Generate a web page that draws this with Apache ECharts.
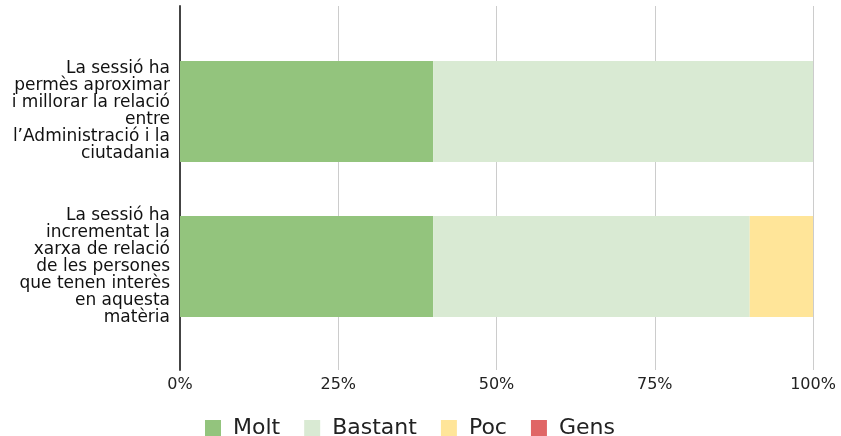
<!DOCTYPE html>
<html>
<head>
<meta charset="utf-8">
<script src="https://cdn.jsdelivr.net/npm/echarts@6/dist/echarts.min.js"></script>
<style>
html,body{margin:0;padding:0;background:#fff;}
#chart{width:841px;height:436px;}
</style>
</head>
<body>
<div id="chart"></div>
<script>
const categories = [
  "La sessió ha\npermès aproximar\ni millorar la relació\nentre\nl’Administració i la\nciutadania",
  "La sessió ha\nincrementat la\nxarxa de relació\nde les persones\nque tenen interès\nen aquesta\nmatèria"
];
const seriesNames = ["Molt", "Bastant", "Poc", "Gens"];
const molt = [40, 40];
const bastant = [60, 50];
const poc = [0, 10];
const gens = [0, 0];
const colors = ["#93c47d", "#d9ead3", "#ffe599", "#e06666"];
const xTicks = [0, 25, 50, 75, 100];

const font = "DejaVu Sans";
const values = [molt, bastant, poc, gens];

const chart = echarts.init(document.getElementById('chart'));
chart.setOption({
  animation: false,
  backgroundColor: '#fff',
  grid: [
    {left: 180, right: 28, top: 6, bottom: 66},
    {left: 180, right: 28, top: 34, bottom: 92}
  ],
  xAxis: [
    {
      gridIndex: 0, type: 'value', min: xTicks[0], max: xTicks[xTicks.length-1],
      interval: xTicks[1] - xTicks[0],
      axisLine: {show: false}, axisTick: {show: false},
      splitLine: {show: true, lineStyle: {color: '#cccccc', width: 1}},
      axisLabel: {formatter: '{value}%', fontFamily: font, fontSize: 16, color: '#222', margin: 7}
    },
    {
      gridIndex: 1, type: 'value', min: xTicks[0], max: xTicks[xTicks.length-1],
      show: false
    }
  ],
  yAxis: [
    {
      gridIndex: 0, type: 'value', min: 0, max: 1,
      axisLine: {show: true, lineStyle: {color: '#444', width: 2}},
      axisTick: {show: false}, axisLabel: {show: false}, splitLine: {show: false}
    },
    {
      gridIndex: 1, type: 'category', inverse: true, data: categories,
      axisLine: {show: false}, axisTick: {show: false}, splitLine: {show: false},
      axisLabel: {fontFamily: font, fontSize: 17, lineHeight: 17, color: '#111', margin: 10, align: 'right'}
    }
  ],
  legend: {
    data: seriesNames,
    left: 205, top: 417, padding: 0,
    icon: 'rect', itemWidth: 16, itemHeight: 16, itemGap: 24,
    textStyle: {fontFamily: font, fontSize: 22, lineHeight: 16, color: '#222', padding: [0, 0, 0, 7]}
  },
  series: seriesNames.map((name, i) => ({
    name: name, type: 'bar', stack: 'total',
    xAxisIndex: 1, yAxisIndex: 1,
    barWidth: 101,
    itemStyle: {color: colors[i]},
    data: values[i]
  }))
});
</script>
</body>
</html>
